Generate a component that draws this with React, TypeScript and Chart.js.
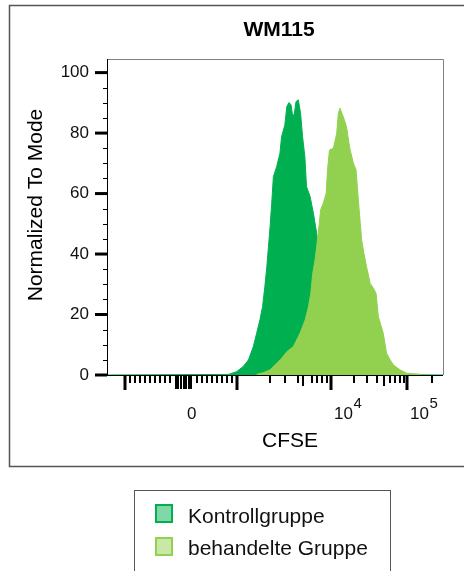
import React, { useEffect, useRef } from "react";
import { Chart, registerables } from "chart.js";

Chart.register(...registerables);

const FONT = '"Liberation Sans", Arial, Helvetica, sans-serif';

const chartTitle = "WM115";
const xAxisTitle = "CFSE";
const yAxisTitle = "Normalized To Mode";
const seriesNames = ["Kontrollgruppe", "behandelte Gruppe"];

// x values are display channels (0..1024) of the biexponential CFSE axis
const kontrollX = [0, 370, 395, 415, 431, 446, 456, 466, 474, 481, 487, 492, 497, 502, 507, 517, 527, 532, 542, 548, 555, 561, 566, 571, 576, 583, 590, 596, 603, 608, 619, 629, 639, 644, 654, 664, 680, 700, 720, 741, 761, 781, 1024];
const kontrollY = [0, 0.2, 1.1, 2.8, 5.0, 9.4, 13.8, 18.2, 22.6, 29.2, 35.8, 42.4, 49.1, 56.8, 65.6, 68.9, 73.3, 78.8, 82.7, 88.8, 90.1, 89.3, 85.4, 86.5, 90.4, 91.0, 86.5, 78.8, 72.2, 62.3, 59.0, 53.5, 46.9, 42.4, 35, 28, 20, 12, 6, 2.5, 0.8, 0.2, 0];

const behandeltX = [456, 477, 497, 517, 532, 548, 568, 588, 604, 614, 621, 627, 634, 639, 647, 651, 659, 668, 672, 678, 690, 700, 705, 710, 720, 730, 736, 741, 751, 759, 766, 776, 783, 791, 802, 812, 820, 827, 842, 852, 863, 873, 893, 913, 959];
const behandeltY = [0.2, 0.8, 1.7, 3.9, 5.5, 7.7, 9.4, 13.8, 18.2, 22.6, 27.0, 33.6, 38.0, 42.4, 50.2, 54.6, 56.8, 60.1, 67.8, 74.4, 75.0, 79.9, 86.5, 88.2, 85.4, 82.1, 77.7, 74.4, 70.0, 67.8, 57.9, 44.7, 40.2, 35.8, 30.3, 28.7, 27.0, 19.3, 13.8, 7.2, 5.0, 3.3, 1.7, 0.6, 0.2];

const yMajorTicks = [0, 20, 40, 60, 80, 100];
const yMinorTicks = [5, 10, 15, 25, 30, 35, 45, 50, 55, 65, 70, 75, 85, 90, 95];

const xLongTicks = [54.9, 394.7, 682.7, 914.3];
const xClusterTicks = [210.3, 217.9, 225.5, 233.2, 240.8, 248.4, 256.0];
const xMediumTicks = [597.3, 844.2];
const xMinorTicks = [70.1, 85.3, 100.6, 115.8, 131.0, 146.3, 161.5, 176.8, 192.0, 274.3, 289.5, 304.8, 320.0, 335.2, 350.5, 365.7, 381.0, 496.8, 542.5, 582.1, 624.8, 640.0, 655.2, 670.5, 752.8, 792.4, 822.9, 862.5, 877.7, 893.0, 905.1, 990.5];

const xTickLabelValues = [234.7, 682.7, 914.3];
const xTickLabelBases = ["0", "10", "10"];
const xTickLabelExps = ["", "4", "5"];

const seriesColors = ["#00B050", "#92D050"];
const swatchFills = ["#80D8A8", "#C9E8A8"];

const decorPlugin = {
  id: "decor",
  beforeDatasetsDraw(chart: any) {
    const { ctx, chartArea: a } = chart;
    ctx.save();
    ctx.strokeStyle = "#808080";
    ctx.lineWidth = 1;
    ctx.beginPath();
    ctx.moveTo(a.left, a.top + 0.5);
    ctx.lineTo(a.right + 0.5, a.top + 0.5);
    ctx.lineTo(a.right + 0.5, a.bottom);
    ctx.stroke();
    ctx.strokeStyle = "#000";
    ctx.beginPath();
    ctx.moveTo(a.left, a.bottom + 0.5);
    ctx.lineTo(a.right, a.bottom + 0.5);
    ctx.stroke();
    ctx.restore();
  },
  afterDatasetsDraw(chart: any) {
    const { ctx, chartArea: a, scales } = chart;
    const xs = scales.x;
    const ys = scales.y;
    ctx.save();

    // left axis line
    ctx.strokeStyle = "#000";
    ctx.lineWidth = 1;
    ctx.beginPath();
    ctx.moveTo(a.left + 0.5, a.top);
    ctx.lineTo(a.left + 0.5, a.bottom + 1);
    ctx.stroke();

    // y ticks
    ctx.lineWidth = 3;
    for (const v of yMajorTicks) {
      const p = ys.getPixelForValue(v);
      ctx.beginPath();
      ctx.moveTo(a.left - 12, p);
      ctx.lineTo(a.left, p);
      ctx.stroke();
    }
    ctx.lineWidth = 1;
    for (const v of yMinorTicks) {
      const p = Math.round(ys.getPixelForValue(v)) + 0.5;
      ctx.beginPath();
      ctx.moveTo(a.left - 4, p);
      ctx.lineTo(a.left, p);
      ctx.stroke();
    }

    // x ticks
    const y0 = a.bottom + 1;
    const drawX = (vals: number[], len: number, w: number) => {
      ctx.lineWidth = w;
      for (const v of vals) {
        const p = Math.round(xs.getPixelForValue(v));
        ctx.beginPath();
        ctx.moveTo(p, y0);
        ctx.lineTo(p, y0 + len);
        ctx.stroke();
      }
    };
    drawX(xMinorTicks, 7, 2);
    drawX(xMediumTicks, 10, 2);
    drawX(xClusterTicks, 13, 2);
    drawX(xLongTicks, 14, 3);

    // x tick labels
    ctx.fillStyle = "#111";
    ctx.textBaseline = "alphabetic";
    ctx.textAlign = "left";
    xTickLabelValues.forEach((v, i) => {
      const p = xs.getPixelForValue(v) + 3;
      ctx.font = `17px ${FONT}`;
      ctx.fillText(xTickLabelBases[i], p, 419);
      const w = ctx.measureText(xTickLabelBases[i]).width;
      if (xTickLabelExps[i]) {
        ctx.font = `15px ${FONT}`;
        ctx.fillText(xTickLabelExps[i], p + w + 0.5, 408);
      }
    });

    // titles
    ctx.fillStyle = "#000";
    ctx.textAlign = "center";
    ctx.font = `bold 21px ${FONT}`;
    ctx.fillText(chartTitle, 279, 36);
    ctx.font = `21px ${FONT}`;
    ctx.fillText(xAxisTitle, 290, 447);
    ctx.save();
    ctx.translate(42, 205);
    ctx.rotate(-Math.PI / 2);
    ctx.fillText(yAxisTitle, 0, 0);
    ctx.restore();

    // outer frame
    ctx.strokeStyle = "#555";
    ctx.lineWidth = 1.5;
    ctx.strokeRect(9.5, 5.5, 470, 461);

    // legend
    ctx.lineWidth = 1;
    ctx.strokeStyle = "#555";
    ctx.strokeRect(134.5, 490.5, 256, 120);
    chart.data.datasets.forEach((ds: any, i: number) => {
      const top = 505 + i * 33;
      ctx.fillStyle = swatchFills[i];
      ctx.fillRect(156, top, 16, 17);
      ctx.strokeStyle = seriesColors[i];
      ctx.lineWidth = 2;
      ctx.strokeRect(156, top, 16, 17);
      ctx.fillStyle = "#111";
      ctx.textAlign = "left";
      ctx.font = `21px ${FONT}`;
      ctx.fillText(ds.label, 188, 523 + i * 32);
    });

    ctx.restore();
  },
};

export default function App() {
  const canvasRef = useRef<HTMLCanvasElement | null>(null);

  useEffect(() => {
    if (!canvasRef.current) return;
    const chart = new Chart(canvasRef.current, {
      type: "line",
      data: {
        datasets: [
          {
            label: seriesNames[0],
            data: kontrollX.map((x, i) => ({ x, y: kontrollY[i] })),
            borderColor: seriesColors[0],
            backgroundColor: seriesColors[0],
            borderWidth: 1,
            fill: "origin",
            pointRadius: 0,
            tension: 0,
            order: 2,
          },
          {
            label: seriesNames[1],
            data: behandeltX.map((x, i) => ({ x, y: behandeltY[i] })),
            borderColor: seriesColors[1],
            backgroundColor: seriesColors[1],
            borderWidth: 1,
            fill: "origin",
            pointRadius: 0,
            tension: 0,
            order: 1,
          },
        ],
      },
      options: {
        animation: false,
        responsive: false,
        events: [],
        layout: { padding: { left: 0, top: 59, right: 21, bottom: 196 } },
        plugins: {
          legend: { display: false },
          title: { display: false },
          tooltip: { enabled: false },
        },
        scales: {
          x: { type: "linear", min: 0, max: 1024, display: false },
          y: {
            type: "linear",
            min: 0,
            max: 104.5,
            afterFit: (s: any) => {
              s.width = 107;
            },
            border: { display: false },
            grid: {
              display: true,
              drawOnChartArea: false,
              drawTicks: true,
              tickLength: 12,
              color: "rgba(0,0,0,0)",
            },
            ticks: {
              stepSize: 5,
              includeBounds: false,
              autoSkip: false,
              padding: 6,
              color: "#111",
              font: { family: FONT, size: 17 },
              callback: (v: any) => (Number(v) % 20 === 0 ? String(v) : ""),
            },
          },
        },
      },
      plugins: [decorPlugin],
    });
    return () => chart.destroy();
  }, []);

  return (
    <div style={{ position: "fixed", left: 0, top: 0, width: 464, height: 571, background: "#fff" }}>
      <canvas ref={canvasRef} width={464} height={571} style={{ display: "block" }} />
    </div>
  );
}
